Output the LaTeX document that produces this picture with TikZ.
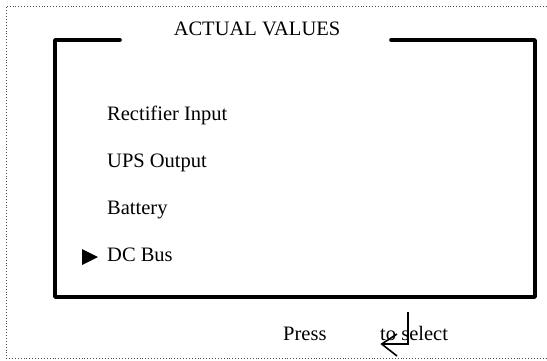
\documentclass[tikz,border=0pt]{standalone}
\usepackage{fontspec}
\setmainfont{Liberation Serif}
\begin{document}
\begin{tikzpicture}[x=1pt,y=-1pt,
  lbl/.style={inner sep=0pt,anchor=base west,font=\fontsize{20.5}{24}\selectfont},
  frame/.style={draw=black!70,line width=0.9pt,dotted},
  panel/.style={draw=black,line width=3.6pt,line join=round,line cap=round}]
\useasboundingbox (0,0) rectangle (547,360);
% dotted outer frame (top, left, bottom)
\draw[frame] (547,6) -- (6,6) -- (6,358) -- (547,358);
% thick panel with gap for title
\draw[panel] (120,40) -- (55,40) -- (55,297) -- (535,297) -- (535,40) -- (391,40);
% title
\node[lbl,anchor=base] (title) at (257,35) {ACTUAL VALUES};
% menu items
\node[lbl] (rect) at (107,120) {Rectifier Input};
\node[lbl] (ups) at (107,167) {UPS Output};
\node[lbl] (bat) at (107,214) {Battery};
\node[lbl] (dc) at (107,261) {DC Bus};
% pointer
\fill (82,249) -- (98,257) -- (82,265) -- cycle;
% footer
\node[lbl] (press) at (283,340) {Press};
\node[lbl] (sel) at (380,340) {to select};
% return key symbol
\coordinate (rtop) at (407.7,311.7);
\coordinate (rcorner) at (407.7,344);
\coordinate (rtip) at (381.7,344);
\draw[line width=1.6pt] (rtop) -- (rcorner) -- (rtip);
\draw[line width=1.6pt] (397,334) -- (rtip) -- (397,356);
\end{tikzpicture}
\end{document}
